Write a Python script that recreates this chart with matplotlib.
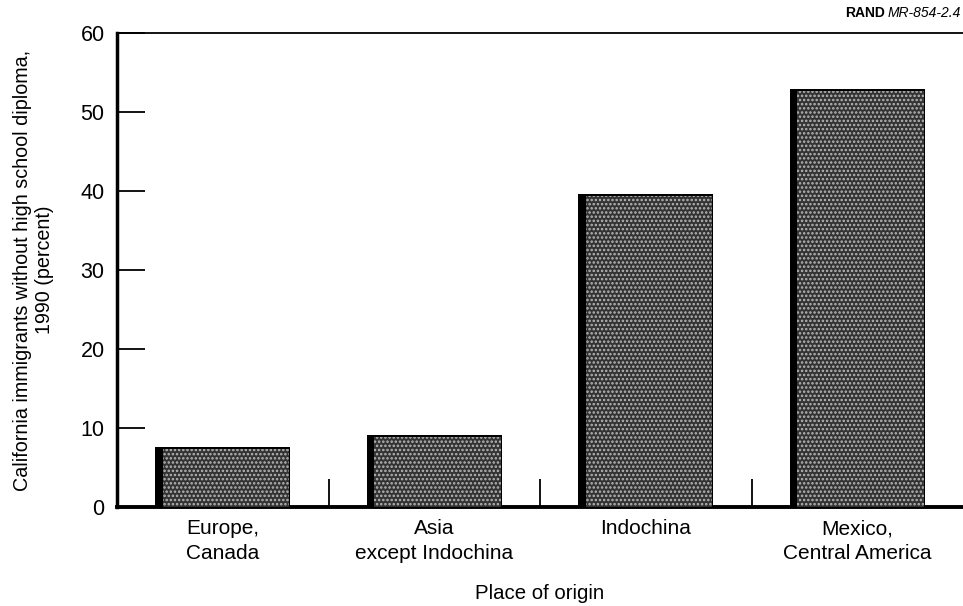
import matplotlib.pyplot as plt

plt.rcParams['font.family'] = ['Liberation Sans', 'DejaVu Sans']
plt.rcParams['hatch.linewidth'] = 1.2

# data
categories = ["Europe,\nCanada", "Asia\nexcept Indochina", "Indochina", "Mexico,\nCentral America"]
values = [7.6, 9.1, 39.6, 52.9]

fig = plt.figure(figsize=(9.63, 6.06), dpi=100)
ax = fig.add_axes([0.1215, 0.1634, 0.8785, 0.7821])

x = list(range(len(categories)))
bar_w = 0.64
shadow = 0.036
top_edge = 0.25

# black "shadow" bar underneath, then the stippled gray face on top
ax.bar(x, values, width=bar_w, color="black", zorder=2)
face_left = [i - bar_w / 2 + shadow for i in x]
face_h = [v - top_edge for v in values]
ax.bar(face_left, face_h, width=bar_w - shadow - 0.006, align="edge",
       facecolor="#333333", edgecolor="#b8b8b8", linewidth=0, hatch="....", zorder=3)

ax.set_xlim(-0.5, 3.5)
ax.set_ylim(0, 60)
ax.set_yticks([0, 10, 20, 30, 40, 50, 60])
ax.set_xticks(x)
ax.set_xticklabels(categories, fontsize=15, linespacing=1.35)
ax.set_xticks([0.5, 1.5, 2.5], minor=True)

ax.tick_params(axis="y", direction="in", length=20, width=1.3, labelsize=15.5, pad=9)
ax.tick_params(axis="x", which="major", length=0, pad=9)
ax.tick_params(axis="x", which="minor", direction="in", length=20, width=1.3)

ax.spines["right"].set_visible(False)
ax.spines["left"].set_linewidth(2.5)
ax.spines["bottom"].set_linewidth(2.8)
ax.spines["top"].set_linewidth(1.3)

ax.set_ylabel("California immigrants without high school diploma,\n1990 (percent)",
              fontsize=14.2, labelpad=19, linespacing=1.2)
ax.set_xlabel("Place of origin", fontsize=14.7, labelpad=15)

fig.text(0.998, 0.978, "MR-854-2.4", fontsize=10, style="italic", ha="right", va="center")
fig.text(0.919, 0.978, "RAND", fontsize=10, weight="bold", ha="right", va="center")

fig.savefig("out.png", dpi=100)
